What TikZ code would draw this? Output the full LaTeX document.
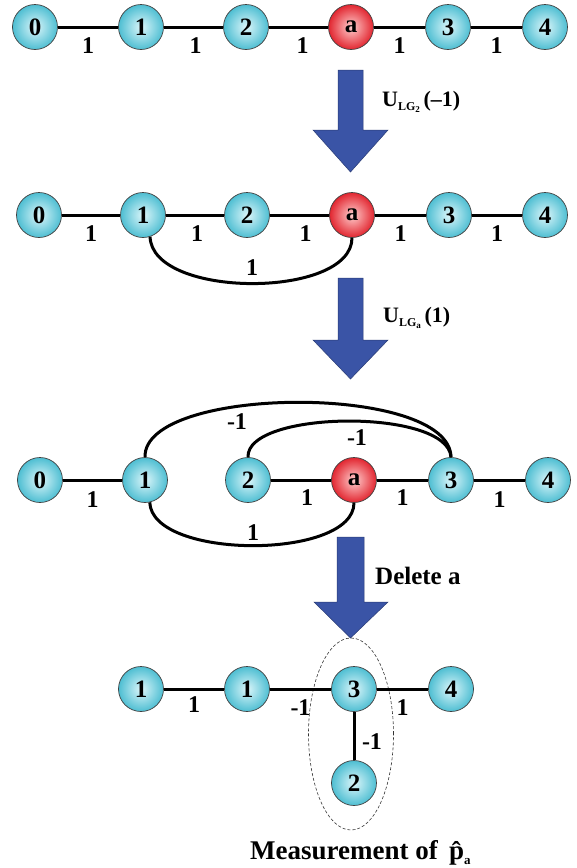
\documentclass[tikz,border=0pt]{standalone}
\usepackage{fontspec}
\setmainfont{Liberation Serif}
\usetikzlibrary{shapes.geometric}
\definecolor{cyanout}{RGB}{78,190,210}
\definecolor{cyanin}{RGB}{220,246,250}
\definecolor{redout}{RGB}{226,38,48}
\definecolor{redin}{RGB}{255,205,205}
\definecolor{arrowblue}{RGB}{58,84,166}
\tikzset{
  nd/.style={circle, minimum size=45pt, inner sep=0pt, draw=black!75, line width=0.7pt,
    shading=radial, inner color=cyanin, outer color=cyanout,
    font=\fontsize{25}{25}\selectfont\bfseries},
  rd/.style={nd, inner color=redin, outer color=redout},
  edge/.style={line width=3pt, black},
  lab/.style={font=\fontsize{24}{24}\selectfont\bfseries, inner sep=0pt},
  bigarrow/.style={fill=arrowblue, draw=arrowblue!70!black, line width=0.5pt},
  txt/.style={anchor=west, inner sep=0pt, font=\bfseries}
}
\begin{document}
\begin{tikzpicture}[x=1pt,y=-1pt]
\useasboundingbox[fill=white] (0,0) rectangle (577,868);

% ---------- Row 1 ----------
\node[nd] (r1n0) at (35,27) {0};
\node[nd] (r1n1) at (141,27) {1};
\node[nd] (r1n2) at (246,27) {2};
\node[rd] (r1a)  at (351,27) {a};
\node[nd] (r1n3) at (448,27) {3};
\node[nd] (r1n4) at (545,27) {4};
\draw[edge] (r1n0) -- node[lab, yshift=-19pt] (l1a) {1} (r1n1);
\draw[edge] (r1n1) -- node[lab, yshift=-19pt, xshift=2pt] (l1b) {1} (r1n2);
\draw[edge] (r1n2) -- node[lab, yshift=-19pt, xshift=4pt] (l1c) {1} (r1a);
\draw[edge] (r1a) -- node[lab, yshift=-19pt] (l1d) {1} (r1n3);
\draw[edge] (r1n3) -- node[lab, yshift=-19pt] (l1e) {1} (r1n4);

% ---------- Arrow 1 ----------
\path[bigarrow] (338,70) -- (363,70) -- (363,130) -- (388,130) -- (350.5,172) -- (313,130) -- (338,130) -- cycle;
\node[txt] (t1) at (382,102) {\fontsize{22}{22}\selectfont U\raisebox{-4pt}{\fontsize{12}{12}\selectfont LG\raisebox{-2.5pt}{\fontsize{9}{9}\selectfont 2}}\,(–1)};

% ---------- Row 2 ----------
\node[nd] (r2n0) at (39,215) {0};
\node[nd] (r2n1) at (143,215) {1};
\node[nd] (r2n2) at (247,215) {2};
\node[rd] (r2a)  at (352,215) {a};
\node[nd] (r2n3) at (449,215) {3};
\node[nd] (r2n4) at (545,215) {4};
\draw[edge] (r2n0) -- node[lab, yshift=-19pt] (l2a) {1} (r2n1);
\draw[edge] (r2n1) -- node[lab, yshift=-19pt, xshift=2pt] (l2b) {1} (r2n2);
\draw[edge] (r2n2) -- node[lab, yshift=-19pt, xshift=6pt] (l2c) {1} (r2a);
\draw[edge] (r2a) -- node[lab, yshift=-19pt] (l2d) {1} (r2n3);
\draw[edge] (r2n3) -- node[lab, yshift=-19pt] (l2e) {1} (r2n4);
\draw[edge] (r2n1.-72) .. controls (152,299) and (352,299) .. (r2a.south);
\node[lab] (l2f) at (252,268) {1};

% ---------- Arrow 2 ----------
\path[bigarrow] (338,278) -- (363,278) -- (363,340) -- (388,340) -- (350.5,379) -- (313,340) -- (338,340) -- cycle;
\node[txt] (t2) at (383,318) {\fontsize{22}{22}\selectfont U\raisebox{-4pt}{\fontsize{12}{12}\selectfont LG\raisebox{-2.5pt}{\fontsize{9}{9}\selectfont a}}\,(1)};

% ---------- Row 3 ----------
\node[nd] (r3n0) at (40,480) {0};
\node[nd] (r3n1) at (145,480) {1};
\node[nd] (r3n2) at (248,480) {2};
\node[rd] (r3a)  at (354,480) {a};
\node[nd] (r3n3) at (451,480) {3};
\node[nd] (r3n4) at (548,480) {4};
\draw[edge] (r3n0) -- node[lab, yshift=-20pt] (l3a) {1} (r3n1);
\draw[edge] (r3n2) -- node[lab, yshift=-18pt, xshift=6pt] (l3b) {1} (r3a);
\draw[edge] (r3a) -- node[lab, yshift=-18pt] (l3c) {1} (r3n3);
\draw[edge] (r3n3) -- node[lab, yshift=-20pt] (l3d) {1} (r3n4);
\draw[edge] (r3n1.north) .. controls (143,385) and (450,383) .. (r3n3.north);
\draw[edge] (r3n2.north) .. controls (246,410) and (448,408) .. (r3n3.north);
\draw[edge] (r3n1.-78) .. controls (152,560) and (354,560) .. (r3a.south);
\node[lab] (l3e) at (237,422) {-1};
\node[lab] (l3f) at (357,438) {-1};
\node[lab] (l3g) at (253,533) {1};

% ---------- Arrow 3 ----------
\path[bigarrow] (337,537) -- (364,537) -- (364,602) -- (388,602) -- (350.5,638) -- (314,602) -- (337,602) -- cycle;
\node[txt] (t3) at (375,576) {\fontsize{25}{25}\selectfont Delete a};

% ---------- Row 4 ----------
\node[draw=black!80, dashed, dash pattern=on 3pt off 2pt, line width=0.6pt, ellipse,
      minimum width=85pt, minimum height=192pt, inner sep=0pt] (ell) at (351,734) {};
\node[nd] (r4n1a) at (141,689) {1};
\node[nd] (r4n1b) at (247,689) {1};
\node[nd] (r4n3)  at (354,689) {3};
\node[nd] (r4n4)  at (451,689) {4};
\node[nd] (r4n2)  at (354,783) {2};
\draw[edge] (r4n1a) -- node[lab, yshift=-16pt] (l4a) {1} (r4n1b);
\draw[edge] (r4n1b) -- node[lab, yshift=-19pt] (l4b) {-1} (r4n3);
\draw[edge] (r4n3) -- node[lab, yshift=-19pt] (l4c) {1} (r4n4);
\draw[edge] (r4n3.south) -- node[lab, xshift=18pt, yshift=-6pt] (l4d) {-1} (r4n2.north);

\node[txt] (t4) at (250,853) {\fontsize{27}{27}\selectfont Measurement of \,p̂\raisebox{-5pt}{\fontsize{13}{13}\selectfont a}};
\end{tikzpicture}
\end{document}
